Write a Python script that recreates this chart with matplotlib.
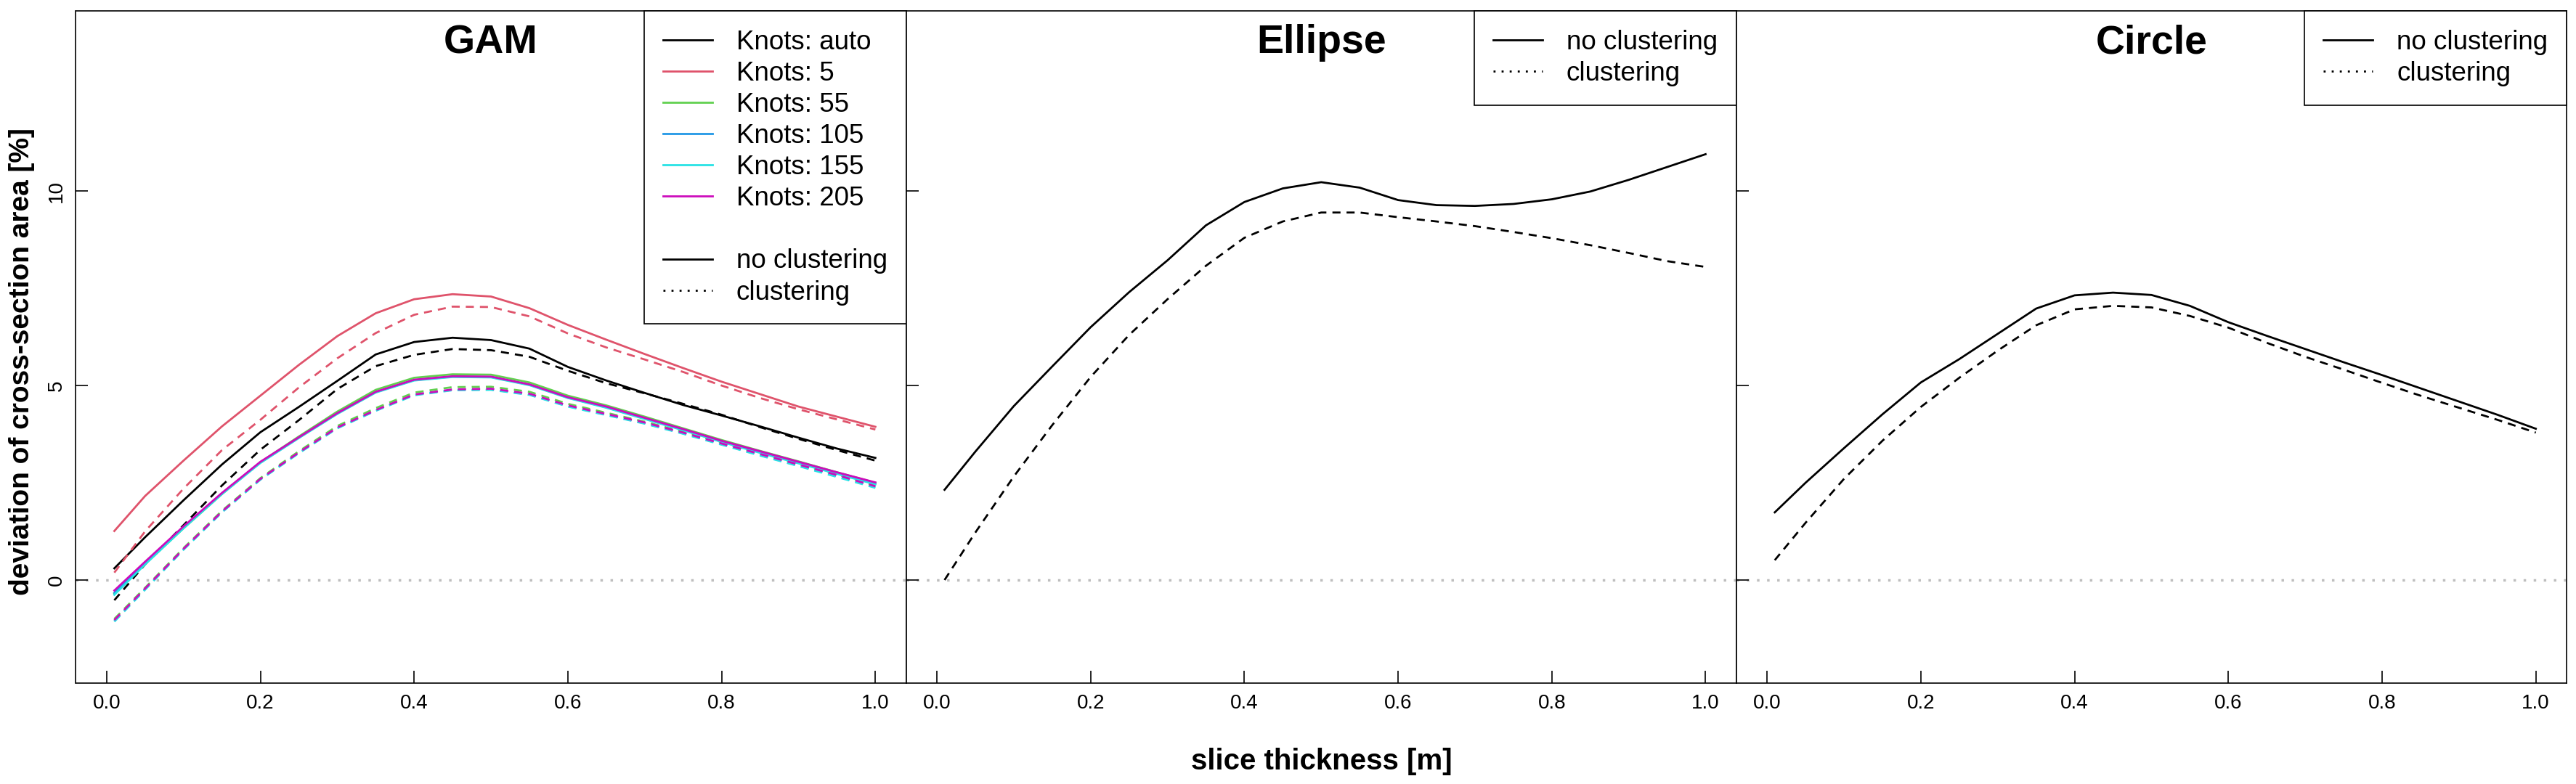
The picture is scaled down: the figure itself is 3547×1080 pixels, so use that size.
import matplotlib.pyplot as plt
from matplotlib.lines import Line2D

plt.rcParams["font.family"] = ["Liberation Sans", "DejaVu Sans"]

# slice thickness [m]
thickness = [0.01, 0.05, 0.10, 0.15, 0.20, 0.25, 0.30, 0.35, 0.40, 0.45, 0.50,
             0.55, 0.60, 0.65, 0.70, 0.75, 0.80, 0.85, 0.90, 0.95, 1.00]

knot_labels = ["Knots: auto", "Knots: 5", "Knots: 55", "Knots: 105", "Knots: 155", "Knots: 205"]
knot_colors = ["#000000", "#DF536B", "#61D04F", "#2297E6", "#28E2E5", "#CD0BBC"]

# GAM, no clustering (solid)
gam_auto = [0.30, 1.10, 2.05, 2.97, 3.80, 4.45, 5.12, 5.80, 6.12, 6.23, 6.17,
            5.95, 5.48, 5.13, 4.81, 4.50, 4.23, 3.95, 3.66, 3.38, 3.14]
gam_k5 = [1.26, 2.16, 3.07, 3.95, 4.74, 5.53, 6.27, 6.86, 7.22, 7.35, 7.29,
          6.99, 6.56, 6.18, 5.81, 5.45, 5.10, 4.78, 4.46, 4.20, 3.94]
gam_k55 = [-0.35, 0.41, 1.33, 2.21, 3.03, 3.69, 4.33, 4.89, 5.20, 5.29, 5.28,
           5.08, 4.74, 4.49, 4.20, 3.90, 3.60, 3.32, 3.05, 2.77, 2.50]
gam_k105 = [-0.33, 0.43, 1.35, 2.22, 3.02, 3.66, 4.28, 4.83, 5.14, 5.23, 5.22,
            5.02, 4.69, 4.44, 4.15, 3.86, 3.56, 3.29, 3.02, 2.75, 2.48]
gam_k155 = [-0.38, 0.40, 1.33, 2.21, 3.01, 3.65, 4.27, 4.82, 5.13, 5.22, 5.21,
            5.01, 4.68, 4.43, 4.14, 3.85, 3.55, 3.27, 3.00, 2.73, 2.46]
gam_k205 = [-0.27, 0.47, 1.38, 2.24, 3.04, 3.67, 4.29, 4.84, 5.15, 5.24, 5.23,
            5.03, 4.70, 4.46, 4.17, 3.88, 3.58, 3.31, 3.04, 2.77, 2.51]

# GAM, clustering (dashed)
gam_auto_cl = [-0.52, 0.40, 1.41, 2.43, 3.35, 4.11, 4.91, 5.50, 5.79, 5.94, 5.91,
               5.74, 5.38, 5.06, 4.80, 4.53, 4.25, 3.93, 3.63, 3.34, 3.07]
gam_k5_cl = [0.19, 1.25, 2.35, 3.34, 4.12, 4.95, 5.70, 6.35, 6.82, 7.03, 7.02,
             6.78, 6.34, 5.98, 5.67, 5.35, 5.00, 4.68, 4.39, 4.13, 3.87]
gam_k55_cl = [-1.00, -0.20, 0.82, 1.78, 2.62, 3.31, 3.96, 4.42, 4.82, 4.96, 4.97,
              4.84, 4.53, 4.30, 4.07, 3.81, 3.53, 3.26, 2.98, 2.71, 2.43]
gam_k105_cl = [-1.05, -0.23, 0.79, 1.75, 2.59, 3.27, 3.91, 4.36, 4.76, 4.89, 4.90,
               4.77, 4.47, 4.25, 4.03, 3.77, 3.49, 3.21, 2.94, 2.67, 2.39]
gam_k155_cl = [-1.07, -0.25, 0.78, 1.74, 2.58, 3.26, 3.90, 4.35, 4.75, 4.88, 4.89,
               4.76, 4.46, 4.24, 4.02, 3.76, 3.48, 3.20, 2.93, 2.65, 2.37]
gam_k205_cl = [-1.03, -0.22, 0.80, 1.76, 2.60, 3.28, 3.92, 4.37, 4.77, 4.90, 4.92,
               4.79, 4.49, 4.27, 4.05, 3.79, 3.51, 3.24, 2.97, 2.70, 2.41]

ellipse = [2.32, 3.30, 4.47, 5.49, 6.50, 7.40, 8.22, 9.12, 9.72, 10.07, 10.23,
           10.09, 9.77, 9.64, 9.62, 9.67, 9.79, 9.99, 10.29, 10.62, 10.95]
ellipse_cl = [0.00, 1.22, 2.66, 3.98, 5.22, 6.30, 7.22, 8.08, 8.80, 9.22, 9.45,
              9.45, 9.33, 9.22, 9.10, 8.95, 8.79, 8.61, 8.41, 8.20, 8.05]

circle = [1.74, 2.50, 3.39, 4.26, 5.08, 5.68, 6.33, 6.98, 7.32, 7.39, 7.33,
          7.05, 6.63, 6.28, 5.94, 5.60, 5.27, 4.93, 4.59, 4.25, 3.89]
circle_cl = [0.51, 1.47, 2.60, 3.58, 4.45, 5.20, 5.90, 6.55, 6.96, 7.05, 7.01,
             6.79, 6.49, 6.10, 5.74, 5.41, 5.07, 4.74, 4.43, 4.12, 3.79]

gam_solid = [gam_auto, gam_k5, gam_k55, gam_k105, gam_k155, gam_k205]
gam_dashed = [gam_auto_cl, gam_k5_cl, gam_k55_cl, gam_k105_cl, gam_k155_cl, gam_k205_cl]

x_ticks = [0.0, 0.2, 0.4, 0.6, 0.8, 1.0]
y_ticks = [0, 5, 10]

W, H = 3548, 1080
fig = plt.figure(figsize=(W / 100, H / 100), dpi=100)

panel_left = 104.5
panel_w = (3534 - 104.5) / 3
ax_top, ax_bottom = 15, 941

LW = 2.0
DASH = (4, 3)

axes = []
for i in range(3):
    ax = fig.add_axes([
        (panel_left + i * panel_w) / W,
        (H - ax_bottom) / H,
        panel_w / W,
        (ax_bottom - ax_top) / H,
    ])
    ax.set_xlim(-0.04, 1.04)
    ax.set_ylim(-2.651, 14.635)
    ax.axhline(0, color="#BEBEBE", lw=2.5, linestyle=(0, (1, 3)), zorder=1)
    ax.set_xticks(x_ticks)
    ax.set_xticklabels([f"{t:.1f}" for t in x_ticks])
    ax.set_yticks(y_ticks)
    ax.tick_params(direction="in", length=12, width=1.2, labelsize=20)
    ax.tick_params(axis="x", pad=11)
    ax.tick_params(axis="y", pad=10, labelrotation=90)
    for lab in ax.get_yticklabels():
        lab.set_va("center")
    if i > 0:
        ax.tick_params(axis="y", labelleft=False)
    for s in ax.spines.values():
        s.set_linewidth(1.2)
    axes.append(ax)

ax_gam, ax_ell, ax_cir = axes

# GAM panel
for ys, yd, col in zip(gam_solid, gam_dashed, knot_colors):
    ax_gam.plot(thickness, ys, color=col, lw=LW, zorder=3)
    ax_gam.plot(thickness, yd, color=col, lw=LW, dashes=DASH, zorder=3)

ax_ell.plot(thickness, ellipse, color="black", lw=LW, zorder=3)
ax_ell.plot(thickness, ellipse_cl, color="black", lw=LW, dashes=DASH, zorder=3)

ax_cir.plot(thickness, circle, color="black", lw=LW, zorder=3)
ax_cir.plot(thickness, circle_cl, color="black", lw=LW, dashes=DASH, zorder=3)

for ax, title in zip(axes, ["GAM", "Ellipse", "Circle"]):
    ax.text(0.5, 0.952, title, transform=ax.transAxes, ha="center", va="center",
            fontsize=40, fontweight="bold")

clust_handles = [
    Line2D([], [], color="black", lw=LW, label="no clustering"),
    Line2D([], [], color="black", lw=LW, linestyle=(0, (1, 3)), label="clustering"),
]
gam_handles = [Line2D([], [], color=c, lw=LW, label=l) for c, l in zip(knot_colors, knot_labels)]
gam_handles.append(Line2D([], [], color="none", label=" "))
gam_handles += clust_handles

leg_kw = dict(loc="upper right", bbox_to_anchor=(1, 1), borderaxespad=0, fontsize=26.5,
              frameon=True, fancybox=False, edgecolor="black", framealpha=1,
              handlelength=1.85, handletextpad=0.9, borderpad=0.7, labelspacing=0.22)
for ax, handles in [(ax_gam, gam_handles), (ax_ell, clust_handles), (ax_cir, clust_handles)]:
    leg = ax.legend(handles=handles, **leg_kw)
    leg.get_frame().set_linewidth(1.2)
    leg.set_zorder(5)

fig.text(30 / W, 1 - 498 / H, "deviation of cross-section area [%]", rotation=90,
         ha="center", va="center", fontsize=28, fontweight="bold")
fig.text(1820 / W, 1 - 1049 / H, "slice thickness [m]", ha="center", va="center",
         fontsize=29, fontweight="bold")

fig.savefig("out.png", dpi=100)
